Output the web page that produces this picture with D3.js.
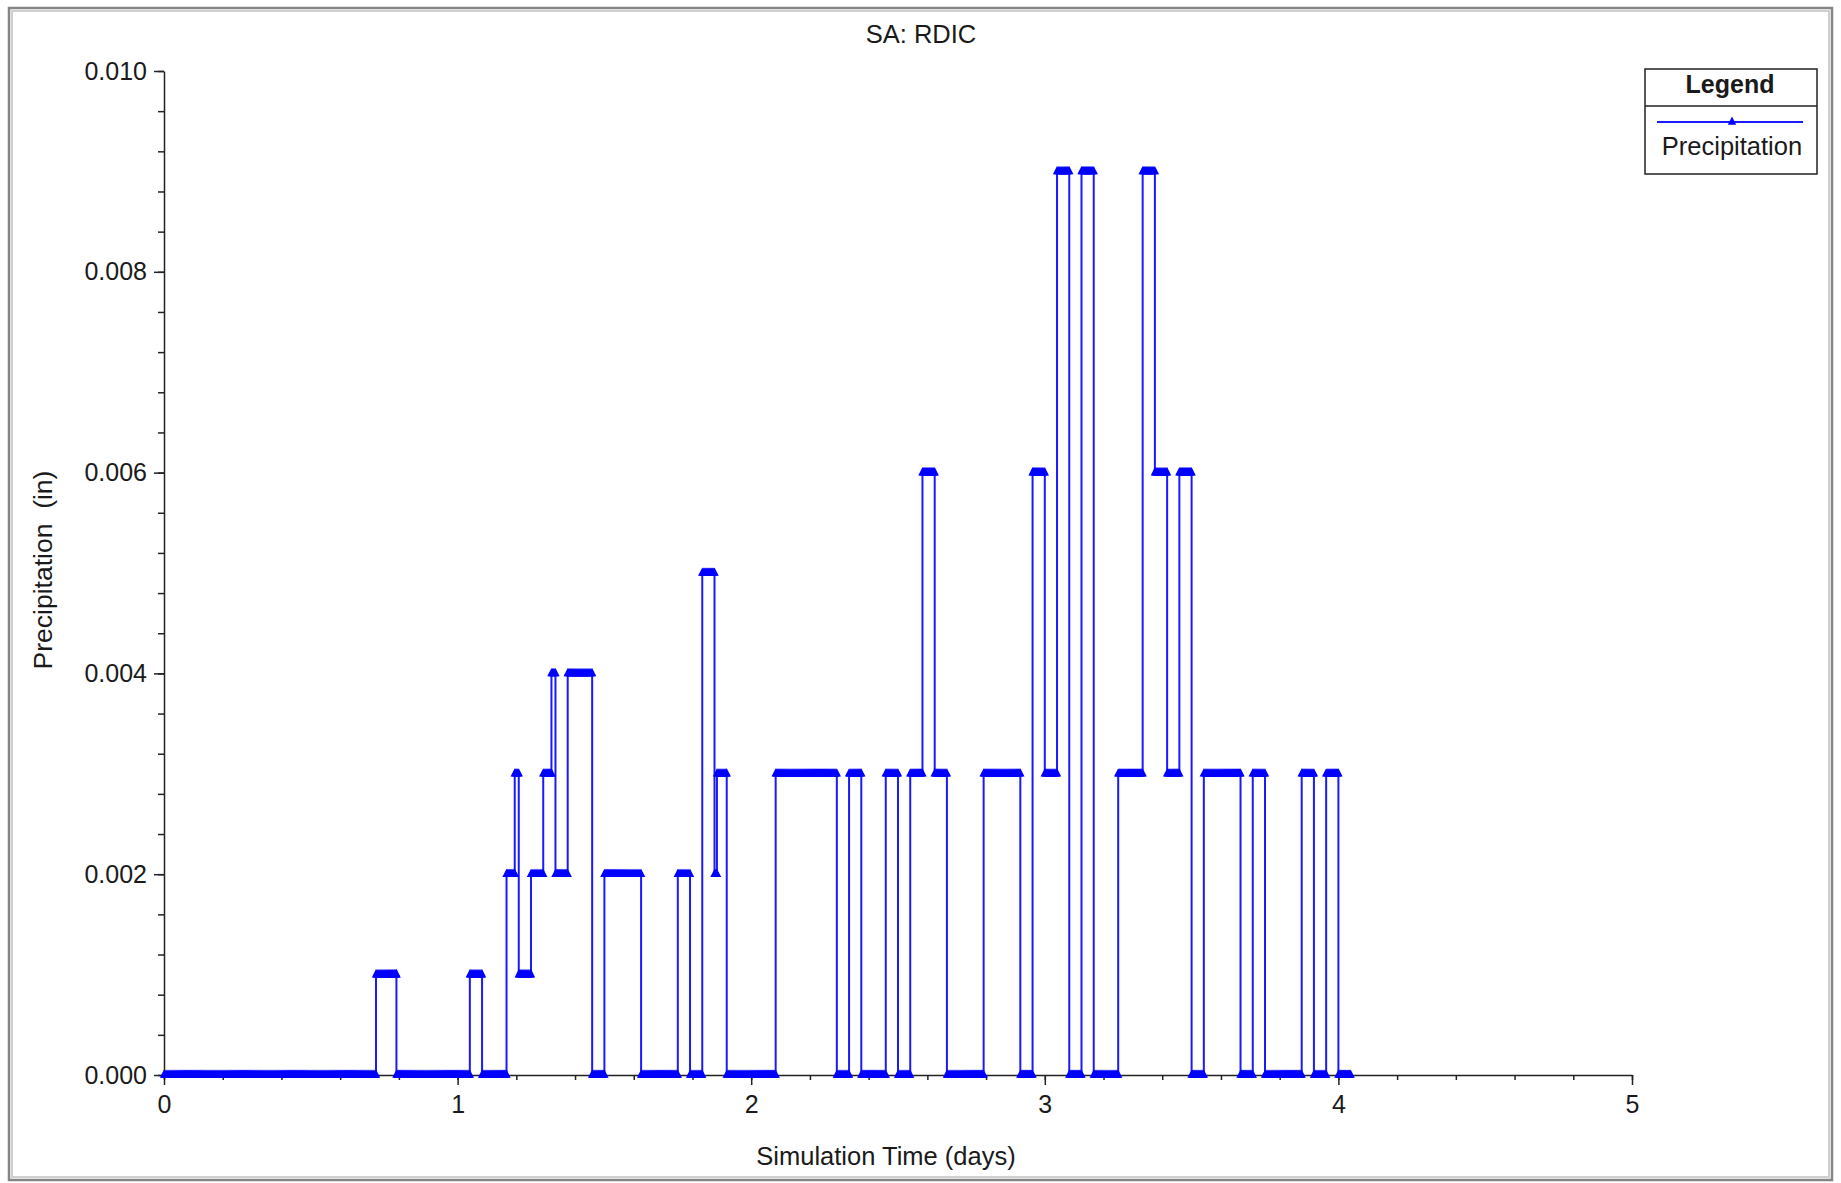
<!DOCTYPE html>
<html>
<head>
<meta charset="utf-8">
<script src="https://cdn.jsdelivr.net/npm/d3@7"></script>
<style>
  body { margin: 0; background: #fff; }
  text { font-family: "Liberation Sans", Arial, sans-serif; fill: #1a1a1a; }
</style>
</head>
<body>
<div class="chart"></div>
<script>
// rain series as steps: value holds from stepHours[i] until the next entry
const stepHours  = [0, 17.33, 19, 25, 26, 28, 28.67, 29, 30, 31, 31.67, 32, 33, 35, 36, 39, 42, 43, 44, 45,
                    45.2, 46, 50, 55, 56, 57, 59, 60, 61, 62, 63, 64, 67, 70, 71, 72, 73, 74, 75, 76,
                    78, 80, 81, 82, 83, 84, 85, 88, 89, 90, 93, 94, 95, 96];
const stepValues = [0, 0.001, 0, 0.001, 0, 0.002, 0.003, 0.001, 0.002, 0.003, 0.004, 0.002, 0.004, 0, 0.002, 0, 0.002, 0, 0.005, 0.002,
                    0.003, 0, 0.003, 0, 0.003, 0, 0.003, 0, 0.003, 0.006, 0.003, 0, 0.003, 0, 0.006, 0.003, 0.009, 0, 0.009, 0,
                    0.003, 0.009, 0.006, 0.003, 0.006, 0, 0.003, 0, 0.003, 0, 0.003, 0, 0.003, 0];
const endHour = 97;
const reportStepHours = 1 / 12;   // 5 min reporting step

const xTicks = [0, 1, 2, 3, 4, 5];
const yTicks = [0, 0.002, 0.004, 0.006, 0.008, 0.010];

const chartTitle = "SA: RDIC";
const xTitle = "Simulation Time (days)";
const yTitle = "Precipitation\u00a0\u00a0(in)";
const seriesName = "Precipitation";

const W = 1841, H = 1183;
const svg = d3.select(".chart").append("svg")
    .attr("width", W).attr("height", H);

svg.append("rect").attr("width", W).attr("height", H).attr("fill", "#fff");
// window frame
svg.append("rect").attr("x", 9).attr("y", 8).attr("width", 1823).attr("height", 1172)
    .attr("fill", "none").attr("stroke", "#858585").attr("stroke-width", 2.5);
svg.append("rect").attr("x", 12).attr("y", 11).attr("width", 1817).attr("height", 1166)
    .attr("fill", "none").attr("stroke", "#cfcfcf").attr("stroke-width", 2);

const x = d3.scaleLinear().domain([0, 5]).range([164, 1632]);
const y = d3.scaleLinear().domain([0, 0.010]).range([1075, 71]);

// axes
const gx = svg.append("g").attr("transform", "translate(0,1075)");
gx.call(d3.axisBottom(x).tickValues(d3.range(0, 5.01, 0.2)).tickSize(5).tickSizeOuter(0).tickFormat(""));
gx.call(g => g.selectAll(".tick text").remove());
const gxMaj = svg.append("g").attr("transform", "translate(0,1075)")
    .call(d3.axisBottom(x).tickValues(xTicks).tickSize(10).tickSizeOuter(0).tickPadding(10).tickFormat(d3.format("d")));
gxMaj.select(".domain").remove();

const gy = svg.append("g").attr("transform", "translate(164,0)");
gy.call(d3.axisLeft(y).tickValues(d3.range(0, 0.01001, 0.0004)).tickSize(6).tickSizeOuter(0).tickFormat(""));
const gyMaj = svg.append("g").attr("transform", "translate(164,0)")
    .call(d3.axisLeft(y).tickValues(yTicks).tickSize(10).tickSizeOuter(0).tickPadding(7).tickFormat(d3.format(".3f")));
gyMaj.select(".domain").remove();

svg.selectAll(".domain, .tick line").attr("stroke", "#222").attr("stroke-width", 1.5);
svg.selectAll(".tick text")
    .attr("font-size", 25)
    .attr("font-family", "'Liberation Sans', Arial, sans-serif")
    .attr("fill", "#1a1a1a");

// series
const pts = stepHours.map((h, i) => ({ t: h / 24, v: stepValues[i] }));
pts.push({ t: endHour / 24, v: stepValues[stepValues.length - 1] });

const line = d3.line().x(d => x(d.t)).y(d => y(d.v)).curve(d3.curveStepAfter);
svg.append("path").datum(pts)
    .attr("d", line)
    .attr("fill", "none")
    .attr("stroke", "#1a1aff")
    .attr("stroke-width", 2);

// markers at every reporting step
let marks = [];
stepHours.forEach((h, i) => {
    let end = i < stepHours.length - 1 ? stepHours[i + 1] : endHour;
    d3.range(h, end, reportStepHours).forEach(s => marks.push({ t: s / 24, v: stepValues[i] }));
    marks.push({ t: end / 24, v: stepValues[i] });
});
const tri = "M0,-5.5L4.2,2.8L-4.2,2.8Z";
svg.append("g").selectAll("path").data(marks).join("path")
    .attr("d", tri)
    .attr("transform", d => `translate(${x(d.t)},${y(d.v)})`)
    .attr("fill", "#0000ff");

// titles
svg.append("text").attr("x", 921).attr("y", 43).attr("text-anchor", "middle")
    .attr("font-size", 25.5).text(chartTitle);
svg.append("text").attr("x", 886).attr("y", 1165).attr("text-anchor", "middle")
    .attr("font-size", 25.5).text(xTitle);
svg.append("text").attr("transform", "translate(52,570) rotate(-90)").attr("text-anchor", "middle")
    .attr("font-size", 26.5).text(yTitle);

// legend
const lg = svg.append("g");
lg.append("rect").attr("x", 1645).attr("y", 69).attr("width", 172).attr("height", 105)
    .attr("fill", "#fff").attr("stroke", "#222").attr("stroke-width", 1.5);
lg.append("line").attr("x1", 1645).attr("x2", 1817).attr("y1", 106).attr("y2", 106)
    .attr("stroke", "#222").attr("stroke-width", 1.5);
lg.append("text").attr("x", 1730).attr("y", 93).attr("text-anchor", "middle")
    .attr("font-size", 25).attr("font-weight", "bold").text("Legend");
lg.append("line").attr("x1", 1657).attr("x2", 1803).attr("y1", 122).attr("y2", 122)
    .attr("stroke", "#1a1aff").attr("stroke-width", 1.8);
lg.append("path").attr("d", tri).attr("transform", "translate(1732,122)").attr("fill", "#0000ff");
lg.append("text").attr("x", 1732).attr("y", 155).attr("text-anchor", "middle")
    .attr("font-size", 25.5).text(seriesName);
</script>
</body>
</html>
